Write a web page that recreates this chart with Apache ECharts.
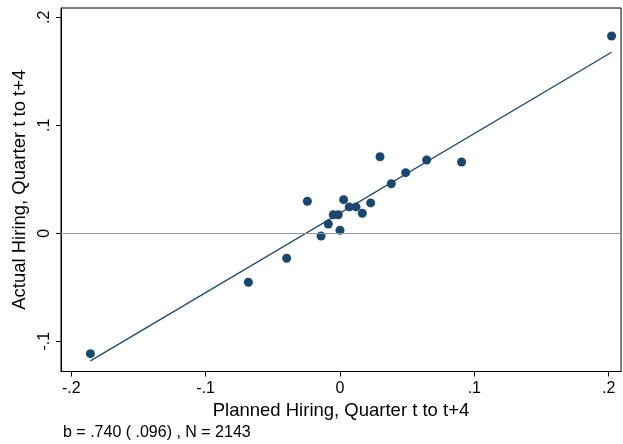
<!DOCTYPE html>
<html>
<head>
<meta charset="utf-8">
<script src="https://cdn.jsdelivr.net/npm/echarts@6/dist/echarts.min.js"></script>
<style>
html, body { margin: 0; padding: 0; background: #fff; }
#main { width: 623px; height: 444px; }
</style>
</head>
<body>
<div id="main"></div>
<script>
// binned scatter: planned vs actual hiring
var plannedX = [-0.1858, -0.0682, -0.0397, -0.0243, -0.0141, -0.0087, -0.0050, -0.0013, 0.0000,
	0.0027, 0.0069, 0.0119, 0.0166, 0.0228, 0.0298, 0.0382, 0.0489, 0.0645, 0.0905, 0.2022];
var actualY = [-0.1115, -0.0454, -0.0231, 0.0296, -0.0025, 0.0086, 0.0172, 0.0172, 0.0028,
	0.0311, 0.0244, 0.0244, 0.0185, 0.0281, 0.0709, 0.0459, 0.0561, 0.0679, 0.0660, 0.1827];
// fitted line end points
var fitX = [-0.1858, 0.2022];
var fitY = [-0.1182, 0.1676];
var xTicks = [-0.2, -0.1, 0, 0.1, 0.2];
var yTicks = [-0.1, 0, 0.1, 0.2];

var navy = '#1a476f';
var font = 'Liberation Sans, Arial, Helvetica, sans-serif';

function fmt(v) {
	var s = (Math.round(v * 10) / 10).toString();
	return s.replace('0.', '.');
}

var pts = [];
for (var i = 0; i < plannedX.length; i++) {
	pts.push([plannedX[i], actualY[i]]);
}
var fit = [];
for (var j = 0; j < fitX.length; j++) {
	fit.push([fitX[j], fitY[j]]);
}

var myChart = echarts.init(document.getElementById('main'), null, { renderer: 'canvas' });
myChart.setOption({
	animation: false,
	backgroundColor: '#fff',
	textStyle: { fontFamily: font },
	grid: {
		left: 61, top: 8, right: 2, bottom: 72.5,
		show: true, borderColor: '#000', borderWidth: 1
	},
	xAxis: {
		type: 'value',
		min: -0.2077, max: 0.2092,
		name: 'Planned Hiring, Quarter t to t+4',
		nameLocation: 'middle',
		nameGap: 26,
		nameTextStyle: { fontSize: 18.5, color: '#000', fontFamily: font },
		splitLine: { show: false },
		axisLine: { show: true, onZero: false, lineStyle: { color: '#000', width: 1 } },
		axisTick: { show: true, length: 5, customValues: xTicks, lineStyle: { color: '#000' } },
		axisLabel: {
			customValues: xTicks, margin: 9, fontSize: 16, color: '#000', fontFamily: font,
			formatter: fmt
		}
	},
	yAxis: {
		type: 'value',
		min: -0.128, max: 0.2086,
		name: 'Actual Hiring, Quarter t to t+4',
		nameLocation: 'middle',
		nameGap: 24,
		nameTextStyle: { fontSize: 18.5, color: '#000', fontFamily: font },
		splitLine: { show: false },
		axisLine: { show: true, onZero: false, lineStyle: { color: '#000', width: 1 } },
		axisTick: { show: true, length: 5, customValues: yTicks, lineStyle: { color: '#000' } },
		axisLabel: {
			customValues: yTicks, margin: 8, fontSize: 16, color: '#000', fontFamily: font,
			rotate: 90, formatter: fmt
		}
	},
	series: [
		{
			type: 'line',
			data: fit,
			symbol: 'none',
			lineStyle: { color: navy, width: 1.3 },
			z: 2,
			markLine: {
				silent: true,
				symbol: 'none',
				label: { show: false },
				lineStyle: { color: '#999', type: 'solid', width: 1.2 },
				data: [{ yAxis: 0 }]
			}
		},
		{
			type: 'scatter',
			data: pts,
			symbol: 'circle',
			symbolSize: 9,
			itemStyle: { color: navy, opacity: 1 },
			z: 3
		}
	],
	graphic: [{
		type: 'text',
		left: 63,
		top: 424.5,
		style: { text: 'b = .740 ( .096) , N = 2143', fontSize: 16, fill: '#000', fontFamily: font }
	}]
});
</script>
</body>
</html>
